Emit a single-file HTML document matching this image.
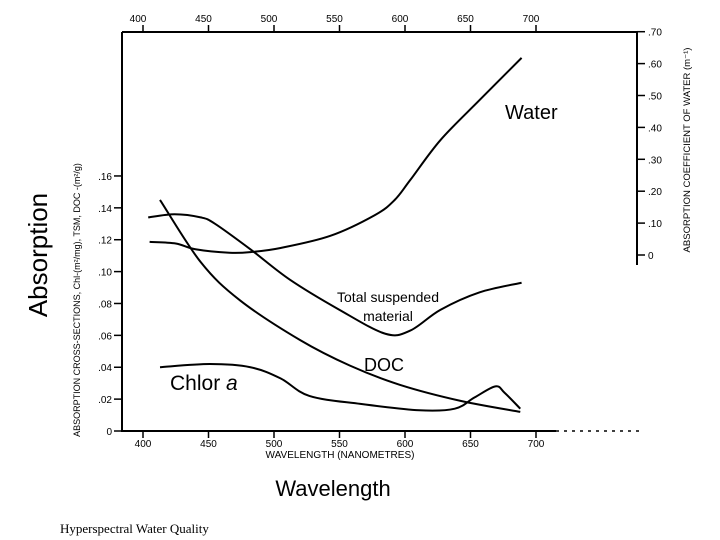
<!DOCTYPE html>
<html><head><meta charset="utf-8"><style>
html,body{margin:0;padding:0;background:#fff;}
svg{display:block;font-family:"Liberation Sans",sans-serif;}
</style></head><body>
<svg id="chart" width="720" height="540" viewBox="0 0 720 540">
<g id="axes"></g>
<g id="series"></g>
<text x="47" y="255" font-size="26" text-anchor="middle" transform="rotate(-90 47 255)">Absorption</text>
<text x="80" y="300" font-size="9" text-anchor="middle" transform="rotate(-90 80 300)">ABSORPTION CROSS-SECTIONS, Chl-(m²/mg), TSM, DOC -(m²/g)</text>
<text x="690" y="150" font-size="9.5" text-anchor="middle" transform="rotate(-90 690 150)">ABSORPTION COEFFICIENT OF WATER (m⁻¹)</text>
<text x="340" y="458" font-size="10" text-anchor="middle">WAVELENGTH (NANOMETRES)</text>
<text x="333" y="496" font-size="22" text-anchor="middle">Wavelength</text>
<text x="60" y="533" font-size="13" font-family="Liberation Serif, serif">Hyperspectral Water Quality</text>
<text x="505" y="119" font-size="20">Water</text>
<text x="388" y="302" font-size="14" text-anchor="middle">Total suspended</text>
<text x="388" y="321" font-size="14" text-anchor="middle">material</text>
<text x="384" y="371" font-size="18" text-anchor="middle">DOC</text>
<text x="170" y="390" font-size="21">Chlor <tspan font-style="italic">a</tspan></text>
</svg>
<script>
const xTicks=[400,450,500,550,600,650,700];
const leftTicks=[0,0.02,0.04,0.06,0.08,0.10,0.12,0.14,0.16];
const leftTickLabels=["0",".02",".04",".06",".08",".10",".12",".14",".16"];
const rightTicks=[0,0.1,0.2,0.3,0.4,0.5,0.6,0.7];
const rightTickLabels=["0",".10",".20",".30",".40",".50",".60",".70"];
const topTickLabels=["400","450","500","550","600","650","700"];
const waterWl=[405,425,440,466,482,505,543,577,592,604,627,657,689];
const waterVal=[0.041,0.036,0.018,0.007,0.009,0.022,0.060,0.125,0.172,0.235,0.36,0.486,0.618];
const tsmWl=[404,424,444,455,482,512,550,585,604,627,657,689];
const tsmVal=[0.134,0.136,0.134,0.130,0.114,0.095,0.076,0.061,0.063,0.076,0.087,0.093];
const docWl=[413,444,474,520,558,596,642,688];
const docVal=[0.145,0.106,0.082,0.057,0.041,0.029,0.019,0.012];
const chlWl=[413,451,482,505,527,566,611,638,653,669,676,688];
const chlVal=[0.040,0.042,0.040,0.033,0.022,0.017,0.013,0.014,0.021,0.028,0.024,0.014];

const NS="http://www.w3.org/2000/svg";
const X=w=>143+(w-400)*1.31;
const YL=v=>431-v*1594;
const YR=v=>255-v*319;
const axes=document.getElementById('axes');
const ser=document.getElementById('series');
function mk(tag,attrs,parent){const e=document.createElementNS(NS,tag);for(const k in attrs)e.setAttribute(k,attrs[k]);parent.appendChild(e);return e;}
let e;
e=mk('path',{d:'M122 32H637V265M122 32V431H556',fill:'none',stroke:'#000','stroke-width':2},axes);


e=mk('path',{d:'M556 431H640',fill:'none',stroke:'#000','stroke-width':1.5,'stroke-dasharray':'3 5'},axes);


xTicks.forEach((w,i)=>{
  e=mk('line',{x1:X(w),x2:X(w),y1:32,y2:25,stroke:'#000','stroke-width':1.5},axes);
  
  
  e=mk('text',{x:X(w)-5,y:22,'font-size':10,'text-anchor':'middle'},axes);e.textContent=topTickLabels[i];
  
  
  e=mk('line',{x1:X(w),x2:X(w),y1:431,y2:438,stroke:'#000','stroke-width':1.5},axes);
  
  
  e=mk('text',{x:X(w),y:447,'font-size':10,'text-anchor':'middle'},axes);e.textContent=topTickLabels[i];
  
  
});
leftTicks.forEach((v,i)=>{
  e=mk('line',{x1:114,x2:122,y1:YL(v),y2:YL(v),stroke:'#000','stroke-width':1.5},axes);
  
  
  e=mk('text',{x:112,y:YL(v)+4,'font-size':10,'text-anchor':'end'},axes);e.textContent=leftTickLabels[i];
  
  
});
rightTicks.forEach((v,i)=>{
  e=mk('line',{x1:637,x2:645,y1:YR(v),y2:YR(v),stroke:'#000','stroke-width':1.5},axes);
  
  
  e=mk('text',{x:648,y:YR(v)+4,'font-size':10},axes);e.textContent=rightTickLabels[i];
  
  
});
function smooth(pts){
  let d='M'+pts[0][0].toFixed(1)+' '+pts[0][1].toFixed(1);
  for(let i=0;i<pts.length-1;i++){
    const p0=pts[i-1]||pts[i],p1=pts[i],p2=pts[i+1],p3=pts[i+2]||p2;
    const c1=[p1[0]+(p2[0]-p0[0])/6,p1[1]+(p2[1]-p0[1])/6];
    const c2=[p2[0]-(p3[0]-p1[0])/6,p2[1]-(p3[1]-p1[1])/6];
    d+=' C'+c1.join(' ')+' '+c2.join(' ')+' '+p2.join(' ');
  }
  return d;
}
function line(wl,val,Y,name){
  const pts=wl.map((w,i)=>[X(w),Y(val[i])]);
  const p=mk('path',{d:smooth(pts),fill:'none',stroke:'#000','stroke-width':2},ser);
  
  
}
line(waterWl,waterVal,YR,'water-line');
line(tsmWl,tsmVal,YL,'tsm-line');
line(docWl,docVal,YL,'doc-line');
line(chlWl,chlVal,YL,'chlor-a-line');
</script>
</body></html>
